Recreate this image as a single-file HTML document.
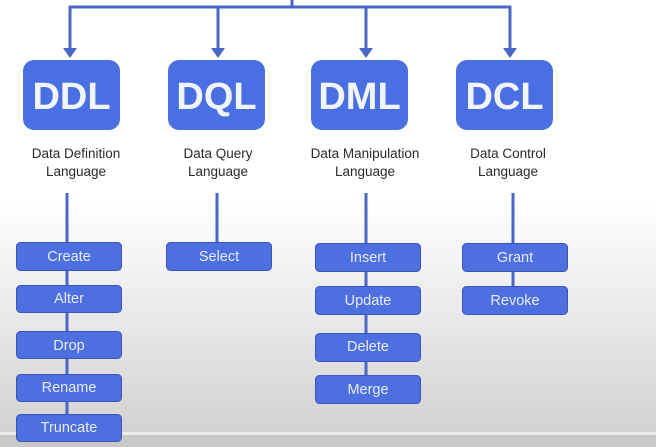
<!DOCTYPE html>
<html><head><style>
html,body{margin:0;padding:0;width:656px;height:447px;overflow:hidden}
body{background:linear-gradient(to bottom,#ffffff 0px,#ffffff 200px,#e6e6e6 330px,#d2d2d2 432px);position:relative;font-family:"Liberation Sans",sans-serif}
svg{position:absolute;left:0;top:0}
</style></head><body>
<svg width="656" height="447" xmlns="http://www.w3.org/2000/svg">
<rect x="0" y="432" width="656" height="3" fill="#ececec"/>
<rect x="0" y="435" width="656" height="12" fill="#c9c9c9"/>
<g stroke="#4a66c8" stroke-width="3" fill="none">
<line x1="292" y1="0" x2="292" y2="7"/>
<line x1="69" y1="7" x2="511" y2="7"/>
<line x1="70" y1="6" x2="70" y2="50"/>
<line x1="218" y1="6" x2="218" y2="50"/>
<line x1="366" y1="6" x2="366" y2="50"/>
<line x1="510" y1="6" x2="510" y2="50"/>
<line x1="67" y1="193" x2="67" y2="420"/>
<line x1="217" y1="193" x2="217" y2="245"/>
<line x1="366" y1="193" x2="366" y2="380"/>
<line x1="513" y1="193" x2="513" y2="290"/>
</g>
<g fill="#4a66c8">
<polygon points="63,48 77,48 70,58"/>
<polygon points="211,48 225,48 218,58"/>
<polygon points="359,48 373,48 366,58"/>
<polygon points="503,48 517,48 510,58"/>
</g>
<g fill="#4a6fe3">
<rect x="23" y="60" width="97" height="70" rx="11"/>
<rect x="168" y="60" width="97" height="70" rx="11"/>
<rect x="311" y="60" width="97" height="70" rx="11"/>
<rect x="456" y="60" width="97" height="70" rx="11"/>
</g>
<g fill="#f2f4fb" font-family="Liberation Sans,sans-serif" font-weight="bold" font-size="38" text-anchor="middle">
<text x="71.5" y="109">DDL</text>
<text x="216.5" y="109">DQL</text>
<text x="359.5" y="109">DML</text>
<text x="504.5" y="109">DCL</text>
</g>
<g fill="#2a2a2a" font-size="13.5" text-anchor="middle">
<text x="76" y="158">Data Definition</text><text x="76" y="176">Language</text>
<text x="218" y="158">Data Query</text><text x="218" y="176">Language</text>
<text x="365" y="158">Data Manipulation</text><text x="365" y="176">Language</text>
<text x="508" y="158">Data Control</text><text x="508" y="176">Language</text>
</g>
<g fill="#4d6fe0" stroke="#3a55b8" stroke-width="1">
<rect x="16.5" y="242.5" width="105" height="28" rx="4"/>
<rect x="16.5" y="285.5" width="105" height="27" rx="4"/>
<rect x="16.5" y="331.5" width="105" height="27" rx="4"/>
<rect x="16.5" y="374.5" width="105" height="27" rx="4"/>
<rect x="16.5" y="414.5" width="105" height="27" rx="4"/>
<rect x="166.5" y="242.5" width="105" height="28" rx="4"/>
<rect x="315.5" y="243.5" width="105" height="28" rx="4"/>
<rect x="315.5" y="286.5" width="105" height="28" rx="4"/>
<rect x="315.5" y="333.5" width="105" height="28" rx="4"/>
<rect x="315.5" y="375.5" width="105" height="28" rx="4"/>
<rect x="462.5" y="243.5" width="105" height="28" rx="4"/>
<rect x="462.5" y="286.5" width="105" height="28" rx="4"/>
</g>
<g fill="#e8ecf8" font-size="14.5" text-anchor="middle">
<text x="69" y="261">Create</text>
<text x="69" y="303">Alter</text>
<text x="69" y="350">Drop</text>
<text x="69" y="392">Rename</text>
<text x="69" y="432">Truncate</text>
<text x="219" y="261">Select</text>
<text x="368" y="262">Insert</text>
<text x="368" y="305">Update</text>
<text x="368" y="351">Delete</text>
<text x="368" y="394">Merge</text>
<text x="515" y="262">Grant</text>
<text x="515" y="305">Revoke</text>
</g>
</svg>
</body></html>
